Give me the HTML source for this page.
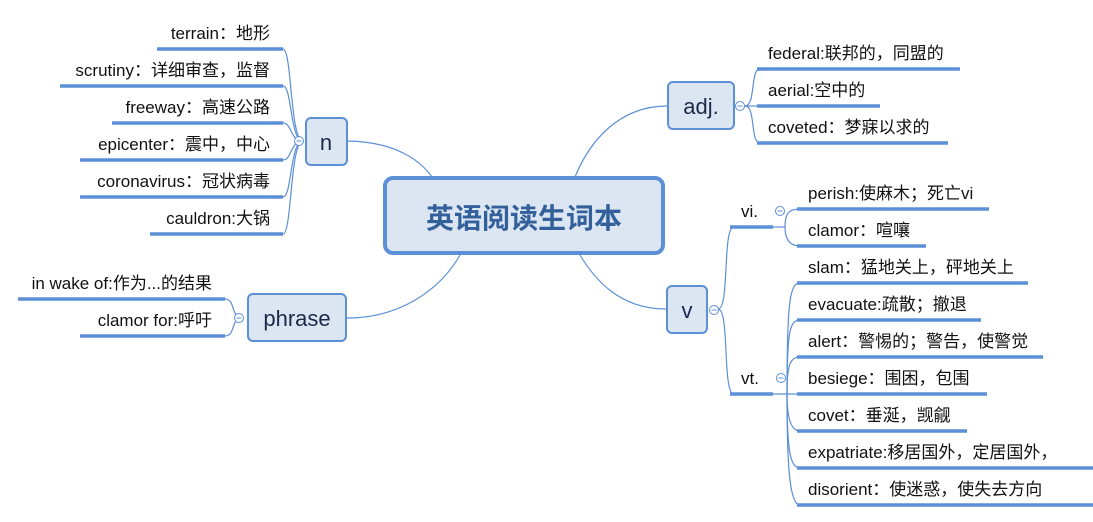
<!DOCTYPE html>
<html><head><meta charset="utf-8"><style>
html,body{margin:0;padding:0;background:#fff;}
svg{display:block;}
text{font-family:"Liberation Sans","Noto Sans CJK SC",sans-serif;fill:#111;}
</style></head><body>
<svg width="1093" height="522" viewBox="0 0 1093 522" xmlns="http://www.w3.org/2000/svg">
<g fill="none" stroke="#5b8fd6" stroke-width="1.2">
<path d="M348 141 C395 142 420 160 432 177"/>
<path d="M667 106 C620 106 590 140 575 177"/>
<path d="M666 309 C620 309 595 280 580 255"/>
<path d="M347 318 C400 318 440 290 460 255"/>
<path d="M303 141 C290 141 292 49 283 49"/>
<path d="M303 141 C290 141 292 86 283 86"/>
<path d="M303 141 C290 141 292 123 283 123"/>
<path d="M303 141 C290 141 292 160 283 160"/>
<path d="M303 141 C290 141 292 197 283 197"/>
<path d="M303 141 C290 141 292 234 283 234"/>
<path d="M745 106 C756 106 750 69 760 69"/>
<path d="M745 106 L760 106"/>
<path d="M745 106 C756 106 750 143 760 143"/>
<path d="M243 318 C230 318 236 299 225 299"/>
<path d="M243 318 C230 318 236 336 225 336"/>
<path d="M718 309 C730 309 722 227 734 227"/>
<path d="M718 309 C730 309 722 394 734 394"/>
<path d="M773 227 L785 227"/>
<path d="M785 227 C785 212 790 209 800 209"/>
<path d="M785 227 C785 240 790 246 800 246"/>
<path d="M773 394 L800 394"/>
<path d="M787 394 C787 300 790 283 800 283"/>
<path d="M787 394 C787 330 790 320 800 320"/>
<path d="M787 394 C787 365 790 357 800 357"/>
<path d="M787 394 C787 415 790 431 800 431"/>
<path d="M787 394 C787 450 790 468 800 468"/>
<path d="M787 394 C787 470 790 505 800 505"/>
</g>
<g stroke="#5b8fd6" stroke-width="3.5" fill="none">
<path d="M157 49H283M60 86H283M112 123H283M80 160H283M80 197H283M150 234H283"/>
<path d="M18 299H225M80 336H225"/>
<path d="M757 69H960M757 106H880M757 143H948"/>
<path d="M730 227H773M730 394H773"/>
<path d="M797 209H989M797 246H926"/>
<path d="M797 283H1028M797 320H981M797 357H1043M797 394H987M797 431H967M797 468H1093M797 505H1093"/>
</g>
<g fill="#fff" stroke="#5b8fd6" stroke-width="1">
<circle cx="299" cy="141" r="4.5"/><circle cx="740" cy="106" r="4.5"/>
<circle cx="239" cy="318" r="4.5"/><circle cx="714" cy="310" r="4.5"/>
<circle cx="780" cy="211" r="4.5"/><circle cx="781" cy="378" r="4.5"/>
</g>
<g stroke="#5b8fd6" stroke-width="1">
<path d="M296.5 141h5M737.5 106h5M236.5 318h5M711.5 310h5M777.5 211h5M778.5 378h5"/>
</g>
<g fill="#dce6f2" stroke="#5b8fd6">
<rect x="385" y="178" width="278" height="75" rx="8" stroke-width="4"/>
<rect x="306" y="118" width="41" height="47" rx="5" stroke-width="2"/>
<rect x="668" y="82" width="66" height="47" rx="5" stroke-width="2"/>
<rect x="667" y="286" width="40" height="47" rx="5" stroke-width="2"/>
<rect x="248" y="294" width="98" height="47" rx="5" stroke-width="2"/>
</g>
<text x="524" y="228" font-size="28" font-weight="bold" text-anchor="middle" style="fill:#33609a">英语阅读生词本</text>
<g font-size="22" text-anchor="middle">
<text x="326" y="150" style="fill:#1b2a4a">n</text>
<text x="701" y="114" style="fill:#1b2a4a">adj.</text>
<text x="687" y="318" style="fill:#1b2a4a">v</text>
<text x="297" y="326" style="fill:#1b2a4a">phrase</text>
</g>
<g font-size="17">
<g text-anchor="end">
<text x="270" y="39">terrain：地形</text>
<text x="270" y="76">scrutiny：详细审查，监督</text>
<text x="270" y="113">freeway：高速公路</text>
<text x="270" y="150">epicenter：震中，中心</text>
<text x="270" y="187">coronavirus：冠状病毒</text>
<text x="270" y="224">cauldron:大锅</text>
<text x="212" y="289">in wake of:作为...的结果</text>
<text x="212" y="326">clamor for:呼吁</text>
</g>
<text x="768" y="59">federal:联邦的，同盟的</text>
<text x="768" y="96">aerial:空中的</text>
<text x="768" y="133">coveted：梦寐以求的</text>
<text x="741" y="217">vi.</text>
<text x="741" y="384">vt.</text>
<text x="808" y="199">perish:使麻木；死亡vi</text>
<text x="808" y="236">clamor：喧嚷</text>
<text x="808" y="273">slam：猛地关上，砰地关上</text>
<text x="808" y="310">evacuate:疏散；撤退</text>
<text x="808" y="347">alert：警惕的；警告，使警觉</text>
<text x="808" y="384">besiege：围困，包围</text>
<text x="808" y="421">covet：垂涎，觊觎</text>
<text x="808" y="458">expatriate:移居国外，定居国外，</text>
<text x="808" y="495">disorient：使迷惑，使失去方向</text>
</g>
</svg>
</body></html>
